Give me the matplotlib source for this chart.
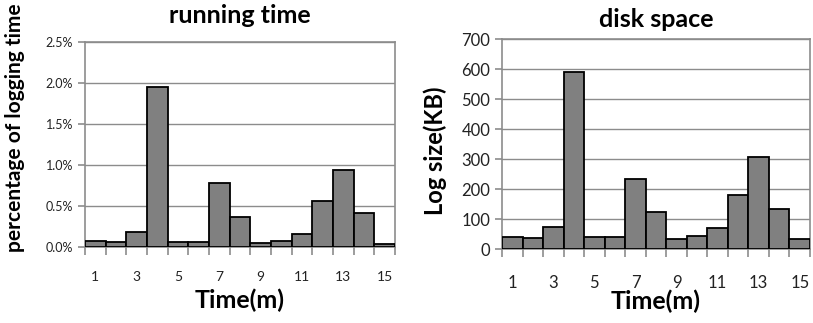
import matplotlib
matplotlib.use("Agg")
import matplotlib.pyplot as plt
from matplotlib.ticker import FixedLocator, FuncFormatter

plt.rcParams['font.family'] = ['Lato', 'DejaVu Sans']

minutes = list(range(1, 16))
time_pct = [0.07, 0.06, 0.18, 1.95, 0.06, 0.06, 0.78, 0.36, 0.045, 0.075,
            0.16, 0.56, 0.945, 0.41, 0.04]
log_kb = [39, 38, 72, 590, 39, 39, 234, 125, 32, 45, 70, 180, 306, 134, 32]
odd_labels = [str(m) for m in minutes if m % 2 == 1]

fig = plt.figure(figsize=(8.13, 3.23), dpi=100)

BAR = '#808080'
GRID = '#8c8c8c'


def style_axes(ax, label_pad, xtick_size, ytick_size):
    ax.set_xlim(0.5, 15.5)
    ax.grid(axis='y', color=GRID, linewidth=1.0)
    ax.set_axisbelow(True)
    for side in ['top', 'right', 'left', 'bottom']:
        ax.spines[side].set_color(GRID)
        ax.spines[side].set_linewidth(1.2)
    # tick marks at bar boundaries, labels on odd minutes
    ax.xaxis.set_major_locator(FixedLocator([i + 0.5 for i in range(0, 16)]))
    ax.xaxis.set_major_formatter(FuncFormatter(lambda v, p: ''))
    ax.xaxis.set_minor_locator(FixedLocator([m for m in minutes if m % 2 == 1]))
    ax.set_xticklabels(odd_labels, minor=True)
    ax.tick_params(axis='x', which='major', length=6, color=GRID, width=1.2)
    ax.tick_params(axis='x', which='minor', length=0, pad=label_pad,
                   labelsize=xtick_size, labelcolor='#222222')
    ax.tick_params(axis='y', length=5, color=GRID, width=1.2,
                   labelsize=ytick_size, labelcolor='#222222')


# running time
ax1 = fig.add_axes([0.1046, 0.2353, 0.3813, 0.6347])
ax1.bar(minutes, time_pct, width=1.0, color=BAR, edgecolor='black', linewidth=1.3, zorder=3)
ax1.set_ylim(0, 2.5)
ax1.set_yticks([0, 0.5, 1.0, 1.5, 2.0, 2.5])
ax1.yaxis.set_major_formatter(FuncFormatter(lambda v, p: f'{v:.1f}%'))
style_axes(ax1, 17, 10, 9)
ax1.set_title('running time', fontsize=18, fontweight='bold', pad=14)
ax1.set_xlabel('Time(m)', fontsize=18, fontweight='bold', labelpad=4)
ax1.set_ylabel('percentage of logging time', fontsize=15, fontweight='bold')
ax1.yaxis.set_label_coords(-0.195, 0.58)

# disk space
ax2 = fig.add_axes([0.6175, 0.2291, 0.3788, 0.650])
ax2.bar(minutes, log_kb, width=1.0, color=BAR, edgecolor='black', linewidth=1.3, zorder=3)
ax2.set_ylim(0, 700)
ax2.set_yticks(range(0, 701, 100))
style_axes(ax2, 19, 12, 12)
ax2.set_title('disk space', fontsize=18, fontweight='bold', pad=9)
ax2.set_xlabel('Time(m)', fontsize=18, fontweight='bold', labelpad=-1)
ax2.set_ylabel('Log size(KB)', fontsize=17, fontweight='bold')
ax2.yaxis.set_label_coords(-0.18, 0.47)

fig.savefig('out.png', dpi=100, facecolor='white')
